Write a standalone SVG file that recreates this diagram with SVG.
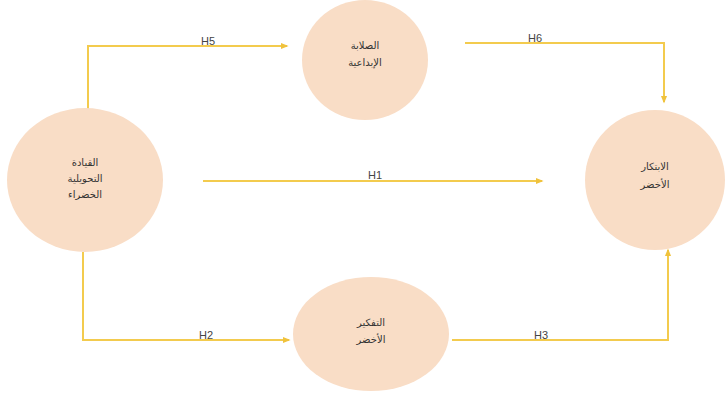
<svg xmlns="http://www.w3.org/2000/svg" width="726" height="394" viewBox="0 0 726 394">
<style>
.node{fill:#F9DDC6;stroke:none}
.lbl{font-family:"Noto Sans","DejaVu Sans",sans-serif;font-size:10px;fill:#333;text-anchor:middle}
.edge{fill:none;stroke:#F3CB4E;stroke-width:2}
.h{font-family:"Liberation Sans",Arial,sans-serif;font-size:11px;fill:#444;text-anchor:middle}
</style>
<defs>
<marker id="arr" viewBox="0 0 10 10" refX="8" refY="5" markerWidth="4" markerHeight="4" orient="auto">
<path d="M0,1 L10,5 L0,9 z" fill="#F0C23C"/>
</marker>
</defs>
<rect width="726" height="394" fill="#fff"/>
<g id="connectors">
<path class="edge" d="M88,112 V46 H287" marker-end="url(#arr)"/>
<path class="edge" d="M465,43 H664 V102" marker-end="url(#arr)"/>
<path class="edge" d="M203,181 H542" marker-end="url(#arr)"/>
<path class="edge" d="M83,252 V340 H289" marker-end="url(#arr)"/>
<path class="edge" d="M452,340 H668 V250" marker-end="url(#arr)"/>
<text class="h" x="208" y="45">H5</text>
<text class="h" x="535" y="42">H6</text>
<text class="h" x="375" y="179">H1</text>
<text class="h" x="206" y="339">H2</text>
<text class="h" x="541" y="339">H3</text>
</g>
<g id="n-leadership">
<ellipse class="node" cx="85" cy="180" rx="78" ry="72"/>
<text class="lbl" x="85" y="166">القيادة</text>
<text class="lbl" x="85" y="182">التحويلية</text>
<text class="lbl" x="85" y="198">الخضراء</text>
</g>
<g id="n-creative">
<ellipse class="node" cx="365" cy="60" rx="63" ry="60"/>
<text class="lbl" x="365" y="49">الصلابة</text>
<text class="lbl" x="365" y="66">الإبداعية</text>
</g>
<g id="n-innovation">
<ellipse class="node" cx="655" cy="180" rx="70" ry="70"/>
<text class="lbl" x="655" y="170">الابتكار</text>
<text class="lbl" x="655" y="188">الأخضر</text>
</g>
<g id="n-thinking">
<ellipse class="node" cx="371" cy="334" rx="78" ry="57"/>
<text class="lbl" x="371" y="326">التفكير</text>
<text class="lbl" x="371" y="343">الأخضر</text>
</g>
</svg>
